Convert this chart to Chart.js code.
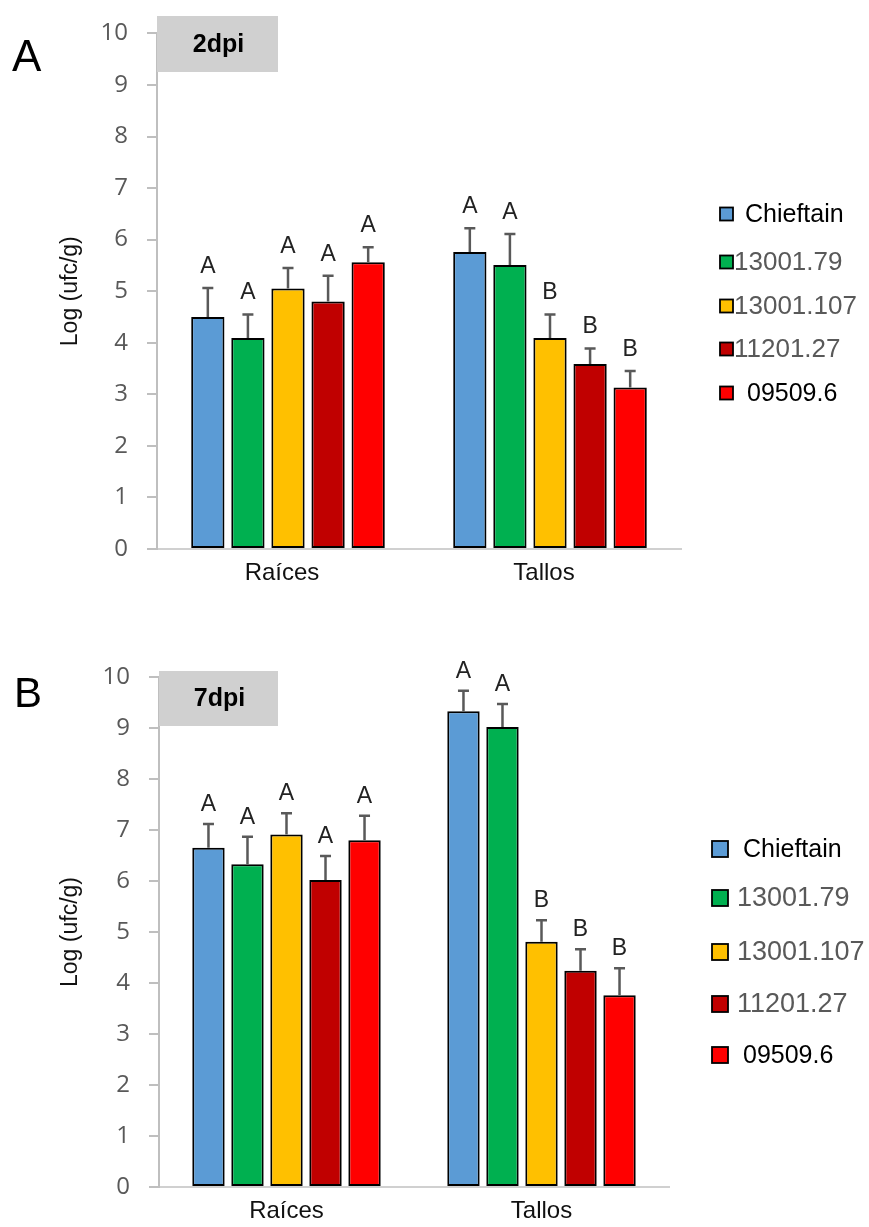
<!DOCTYPE html>
<html><head><meta charset="utf-8">
<script src="https://cdn.jsdelivr.net/npm/chart.js@4.4.1/dist/chart.umd.min.js"></script>
<style>
html,body{margin:0;padding:0;background:#fff;}
#wrap{position:relative;width:869px;height:1227px;overflow:hidden;}
#cA{position:absolute;left:0;top:0;}
#cB{position:absolute;left:0;top:620px;}
</style></head><body>
<div id="wrap"><canvas id="cA" width="869" height="620"></canvas><canvas id="cB" width="869" height="607"></canvas></div>
<script>
// ---------- data ----------
const categories = ['Raíces', 'Tallos'];
const seriesNames = ['Chieftain', '13001.79', '13001.107', '11201.27', '09509.6'];
const seriesColors = ['#5b9bd5', '#00b050', '#ffc000', '#c00000', '#ff0000'];
const yTickLabels = ['0','1','2','3','4','5','6','7','8','9','10'];
const yAxisTitle = 'Log (ufc/g)';

// 2 dpi (panel A) : means
const dpi2Chieftain = [4.50, 5.76];
const dpi2S1300179  = [4.09, 5.51];
const dpi2S13001107 = [5.05, 4.09];
const dpi2S1120127  = [4.80, 3.59];
const dpi2S095096   = [5.56, 3.13];
// 2 dpi : error (upper)
const dpi2ErrChieftain = [0.56, 0.46];
const dpi2Err1300179   = [0.46, 0.60];
const dpi2Err13001107  = [0.40, 0.46];
const dpi2Err1120127   = [0.50, 0.30];
const dpi2Err095096    = [0.29, 0.32];

// 7 dpi (panel B) : means
const dpi7Chieftain = [6.65, 9.33];
const dpi7S1300179  = [6.33, 9.02];
const dpi7S13001107 = [6.91, 4.81];
const dpi7S1120127  = [6.02, 4.24];
const dpi7S095096   = [6.80, 3.76];
// 7 dpi : error (upper)
const dpi7ErrChieftain = [0.47, 0.40];
const dpi7Err1300179   = [0.54, 0.45];
const dpi7Err13001107  = [0.42, 0.42];
const dpi7Err1120127   = [0.47, 0.42];
const dpi7Err095096    = [0.48, 0.53];

// significance letters
const lettersChieftain = ['A', 'A'];
const letters1300179   = ['A', 'A'];
const letters13001107  = ['A', 'B'];
const letters1120127   = ['A', 'B'];
const letters095096    = ['A', 'B'];

const panelA = { letter: 'A', tag: '2dpi' };
const panelB = { letter: 'B', tag: '7dpi' };
// -------------------------

const letterSets = [lettersChieftain, letters1300179, letters13001107, letters1120127, letters095096];

function makeDatasets(means, errs) {
  return means.map((m, i) => ({
    label: seriesNames[i],
    data: m,
    errors: errs[i],
    letters: letterSets[i],
    backgroundColor: seriesColors[i],
    borderColor: '#000000',
    borderWidth: 2,
    borderSkipped: false,
    barPercentage: 0.83,
    categoryPercentage: 0.765
  }));
}

const overlay = {
  id: 'overlay',
  afterDatasetsDraw(chart, args, o) {
    const ctx = chart.ctx, ys = chart.scales.y;
    chart.data.datasets.forEach((ds, di) => {
      const meta = chart.getDatasetMeta(di);
      meta.data.forEach((bar, i) => {
        const yErr = ys.getPixelForValue(ds.data[i] + ds.errors[i]);
        ctx.save();
        ctx.strokeStyle = '#595959';
        ctx.lineWidth = 2.5;
        ctx.beginPath();
        ctx.moveTo(bar.x, bar.y);
        ctx.lineTo(bar.x, yErr);
        ctx.moveTo(bar.x - 5.5, yErr);
        ctx.lineTo(bar.x + 5.5, yErr);
        ctx.stroke();
        ctx.fillStyle = '#222';
        ctx.font = '23px "Liberation Sans", Arial, sans-serif';
        ctx.textAlign = 'center';
        ctx.textBaseline = 'alphabetic';
        ctx.fillText(ds.letters[i], bar.x, yErr - o.letterGap);
        ctx.restore();
      });
    });
  },
  afterDraw(chart, args, o) {
    const ctx = chart.ctx;
    ctx.save();
    // panel letter
    ctx.fillStyle = '#000';
    ctx.font = o.panelFont + ' "Liberation Sans", Arial, sans-serif';
    ctx.textAlign = 'left';
    ctx.textBaseline = 'alphabetic';
    ctx.fillText(o.panel.letter, o.panelX, o.panelY);
    // tag box
    ctx.fillStyle = '#d0d0d0';
    ctx.fillRect(o.box[0], o.box[1], o.box[2], o.box[3]);
    ctx.fillStyle = '#000';
    ctx.font = 'bold 25px "Liberation Sans", Arial, sans-serif';
    ctx.textAlign = 'center';
    ctx.textBaseline = 'middle';
    ctx.fillText(o.panel.tag, o.box[0] + o.box[2] / 2 + 1, o.box[1] + o.box[3] / 2 + 1);
    // legend
    const L = o.legend;
    chart.data.datasets.forEach((ds, i) => {
      const cy = L.ys[i];
      ctx.fillStyle = ds.backgroundColor;
      ctx.fillRect(L.x, cy - L.size / 2, L.size, L.size);
      ctx.strokeStyle = '#000';
      ctx.lineWidth = 1.8;
      ctx.strokeRect(L.x, cy - L.size / 2, L.size, L.size);
      ctx.fillStyle = L.colors[i];
      ctx.font = L.fonts[i] + ' "Liberation Sans", Arial, sans-serif';
      ctx.textAlign = 'left';
      ctx.textBaseline = 'middle';
      ctx.fillText(ds.label, L.tx[i], cy + 1);
    });
    ctx.restore();
  }
};

function makeChart(id, means, errs, cfg) {
  return new Chart(document.getElementById(id), {
    type: 'bar',
    data: { labels: categories, datasets: makeDatasets(means, errs) },
    plugins: [overlay],
    options: {
      responsive: false,
      animation: false,
      devicePixelRatio: 1,
      layout: { padding: { left: 0, top: cfg.top, right: cfg.right, bottom: 0 } },
      plugins: {
        legend: { display: false },
        tooltip: { enabled: false },
        overlay: cfg.overlay
      },
      scales: {
        x: {
          afterFit: s => { s.height = cfg.xh; },
          grid: { display: false, drawTicks: false },
          border: { display: true, color: '#d0d0d0', width: 2 },
          ticks: {
            color: '#111',
            padding: 10,
            labelOffset: cfg.labelOffset,
            font: { family: '"Liberation Sans", Arial, sans-serif', size: 24 }
          }
        },
        y: {
          min: 0, max: 10,
          afterFit: s => { s.width = cfg.yw; },
          grid: { drawOnChartArea: false, drawTicks: true, tickLength: 10, color: '#bfbfbf', lineWidth: 2 },
          border: { display: true, color: '#bfbfbf', width: 2 },
          ticks: {
            stepSize: 1,
            padding: 19,
            color: '#595959',
            font: { family: '"Open Sans", sans-serif', size: 24 },
            callback: (v) => yTickLabels[v]
          },
          title: {
            display: true,
            text: yAxisTitle,
            color: '#111',
            padding: { top: 57, bottom: 0 },
            font: { family: '"Liberation Sans", Arial, sans-serif', size: 23 }
          }
        }
      }
    }
  });
}

makeChart('cA',
  [dpi2Chieftain, dpi2S1300179, dpi2S13001107, dpi2S1120127, dpi2S095096],
  [dpi2ErrChieftain, dpi2Err1300179, dpi2Err13001107, dpi2Err1120127, dpi2Err095096],
  {
    top: 20, right: 188, xh: 71, yw: 157, labelOffset: -6,
    overlay: {
      letterGap: 15,
      panel: panelA, panelFont: '44px', panelX: 12, panelY: 71,
      box: [157, 16, 121, 56],
      legend: {
        x: 720, size: 13,
        fonts: ['25px', '26px', '26px', '26px', '25px'],
        ys: [214, 262, 306, 349, 393],
        tx: [745, 734, 734, 734, 747],
        colors: ['#000', '#595959', '#595959', '#595959', '#000']
      }
    }
  });

makeChart('cB',
  [dpi7Chieftain, dpi7S1300179, dpi7S13001107, dpi7S1120127, dpi7S095096],
  [dpi7ErrChieftain, dpi7Err1300179, dpi7Err13001107, dpi7Err1120127, dpi7Err095096],
  {
    top: 57, right: 200, xh: 40, yw: 159, labelOffset: 0,
    overlay: {
      letterGap: 13,
      panel: panelB, panelFont: '42px', panelX: 14, panelY: 87,
      box: [159, 51, 119, 55],
      legend: {
        x: 712, size: 16,
        fonts: ['25px', '27px', '27px', '27px', '25px'],
        ys: [229, 278, 332, 384, 435],
        tx: [743, 737, 737, 737, 743],
        colors: ['#000', '#595959', '#595959', '#595959', '#000']
      }
    }
  });
</script>
</body></html>
